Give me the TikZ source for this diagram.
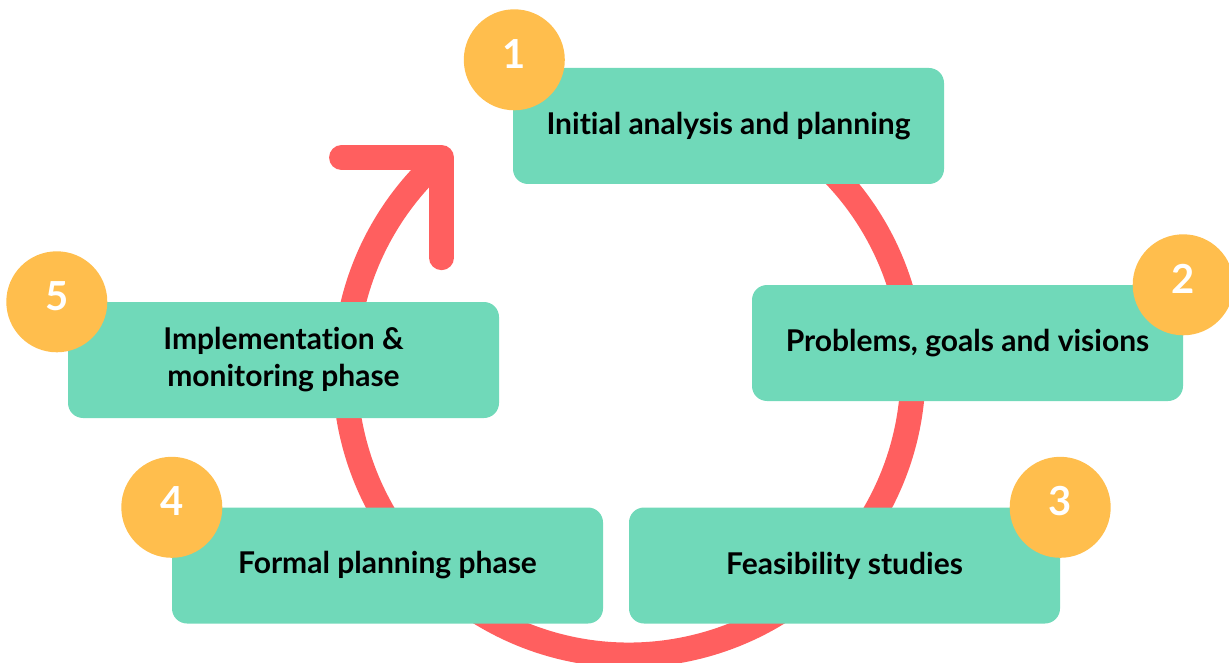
\documentclass[tikz,border=0pt]{standalone}
\usepackage{fontspec}
\setmainfont{Lato}[Ligatures={NoCommon,NoRequired,NoContextual}]
\usepackage{xcolor}
\usepackage{tikz}
\usetikzlibrary{positioning,calc}

\definecolor{stagegreen}{HTML}{70D9B9}
\definecolor{badgeorange}{HTML}{FFBE4D}
\definecolor{cyclered}{HTML}{FF5F5F}

\begin{document}
\begin{tikzpicture}[
    x=1pt, y=-1pt,
    stage/.style={rectangle, fill=stagegreen, rounded corners=15pt, minimum width=431pt, minimum height=116pt, align=center, inner sep=0pt, font=\fontsize{30}{37}\selectfont\bfseries},
    badge/.style={circle, fill=badgeorange, minimum size=101pt, inner sep=0pt, text=white, text depth=12pt, font=\fontsize{40}{40}\selectfont\bfseries},
    ringline/.style={draw=cyclered, line width=25pt}
]
    \useasboundingbox (0,0) rectangle (1229,663);

    % Cycle arrow
    \coordinate (centre) at (629,371);
    \draw[ringline] (centre) ++(-60:284) arc[start angle=-60, end angle=228.7, radius=284] coordinate (tip);
    \draw[ringline, line cap=round, line join=round] ($(tip)+(-100,0)$) -- (tip) -- ($(tip)+(0,100)$);

    % Stages
    \node[stage] (s1) at (728.5,126) {Initial analysis and planning};
    \node[stage] (s2) at (967.5,343) {Problems, goals and visions};
    \node[stage] (s3) at (844.5,565.5) {Feasibility studies};
    \node[stage] (s4) at (387.5,565.5) {Formal planning phase};
    \node[stage] (s5) at (283.5,360) {Implementation \&\\monitoring phase};

    % Numbers
    \node[badge] (n1) at ($(s1.north west)+(1.5,-8)$) {1};
    \node[badge] (n2) at (s2.north east) {2};
    \node[badge] (n3) at (s3.north east) {3};
    \node[badge] (n4) at (s4.north west) {4};
    \node[badge] (n5) at ($(s5.north west)+(-11,0)$) {5};
\end{tikzpicture}
\end{document}
